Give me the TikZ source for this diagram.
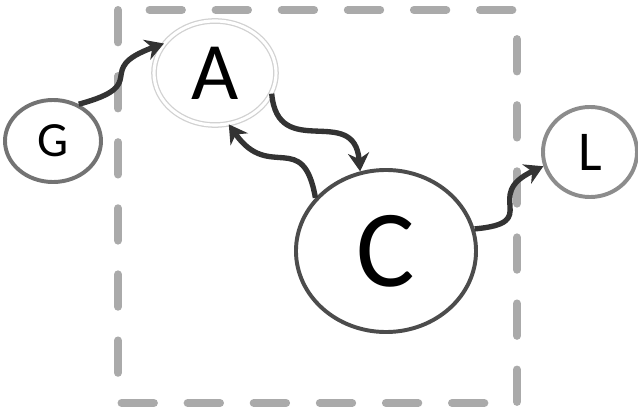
\documentclass[tikz,border=0pt]{standalone}
\usepackage{fontspec}
\setmainfont{Carlito}
\usepackage{xcolor}
\usepackage{tikz}
\usetikzlibrary{shapes.geometric, arrows.meta, positioning, shadows}
\definecolor{edgegray}{HTML}{333333}
\definecolor{boxgray}{HTML}{AAAAAA}

\begin{document}
\begin{tikzpicture}[
    x=0.025cm, y=0.025cm,
    state/.style={ellipse, draw, fill=white, inner sep=0pt, line width=2.8pt,
        drop shadow={opacity=0.25, shadow xshift=1pt, shadow yshift=-1pt}},
    arrow/.style={-{Stealth[length=13pt, width=15pt]}, line width=3.8pt, color=edgegray},
    groupbox/.style={draw=boxgray, line width=5.7pt, line cap=round,
        dash pattern=on 23pt off 24pt}
]
\useasboundingbox (0,0) rectangle (638,415);
\draw[groupbox] (118,405) rectangle (517,12);

\node (a) [state, draw=black!18, line width=0.9pt, double=white, double distance=2.2pt,
    minimum width=3.05cm, minimum height=2.6cm, font=\fontsize{58}{58}\selectfont] at (215,342) {A};
\node (g) [state, draw=black!55, minimum width=2.4cm, minimum height=2.05cm,
    font=\fontsize{35}{35}\selectfont] at (53,274) {G};
\node (c) [state, draw=black!70, minimum width=4.5cm, minimum height=4.05cm,
    font=\fontsize{78}{78}\selectfont] at (386,164) {C};
\node (l) [state, draw=black!45, minimum width=2.35cm, minimum height=2.25cm,
    font=\fontsize{40}{40}\selectfont] at (590,263) {L};

\draw[arrow] (g.55) to[out=15, in=200, looseness=1.9] (a.150);
\draw[arrow] (a.-20) to[out=-85, in=95, looseness=1.5] (c.108);
\draw[arrow] (c.143) to[out=100, in=-55, looseness=1.6] (a.-75);
\draw[arrow] (c.14) to[out=5, in=205, looseness=1.9] (l.197);
\end{tikzpicture}
\end{document}
